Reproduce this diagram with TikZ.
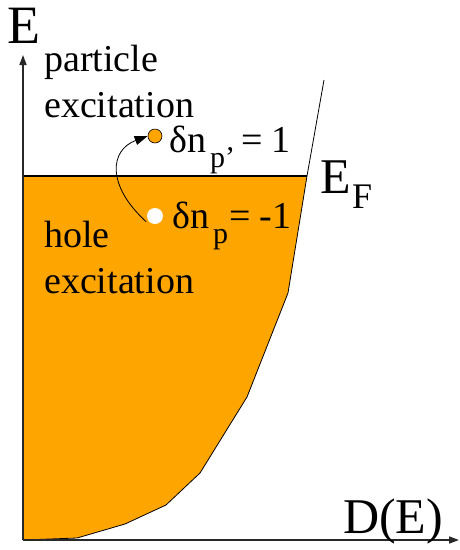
\documentclass[tikz,border=0pt]{standalone}
\usepackage{fontspec}
\setmainfont{Liberation Serif}
\newfontfamily\tms{Liberation Serif}
\usetikzlibrary{arrows.meta}
\definecolor{fermi}{RGB}{255,165,0}
\tikzset{
  axis/.style={line width=1.6pt, draw={rgb,255:red,40;green,40;blue,40}, -{Triangle[length=10pt,width=7pt]}},
  lbl/.style={anchor=base west, inner sep=0pt, font=\tms\fontsize{38}{40}\selectfont},
  big/.style={anchor=base west, inner sep=0pt, font=\tms\fontsize{50}{52}\selectfont},
  dotp/.style={circle, fill=fermi, draw=black, line width=0.6pt, minimum size=14pt, inner sep=0pt},
  doth/.style={circle, fill=white, minimum size=16pt, inner sep=0pt},
}
\newcommand{\subsz}{\tms\fontsize{30}{32}\selectfont}
\begin{document}
\begin{tikzpicture}[x=1pt,y=-1pt]
\useasboundingbox (0,0) rectangle (460,550);
% filled states
\fill[fermi] (23,176) -- (307,176) -- (288,293) -- (247,397) -- (200,473) -- (166,505) -- (125,524) -- (77,538) -- (23,540) -- cycle;
\draw[line width=0.8pt] (324,80) -- (307,176) -- (288,293) -- (247,397) -- (200,473) -- (166,505) -- (125,524) -- (77,538) -- (23,540);
% Fermi level
\coordinate (ef0) at (23,176);
\coordinate (ef1) at (307,176);
\draw[line width=1.4pt] (ef0) -- (ef1);
% axes
\coordinate (o) at (23,540);
\coordinate (ytip) at (23,55);
\coordinate (xtip) at (459,540);
\draw[axis] (o) -- (ytip);
\draw[axis] (o) -- (xtip);
% labels
\node[big, font=\tms\fontsize{54}{56}\selectfont] (E) at (7,43) {E};
\node[lbl] (part) at (44,71) {particle};
\node[lbl] (exc1) at (44,117) {excitation};
\node[lbl] (hole) at (44,247) {hole};
\node[lbl] (exc2) at (44,293) {excitation};
\node[big] (EF) at (320,193) {E};
\node[anchor=base west, inner sep=0pt, font=\tms\fontsize{36}{38}\selectfont] (F) at (352,208) {F};
\node[big] (DE) at (343,533) {D(E)};
% excitations
\node[dotp] (pp) at (155,136) {};
\node[doth] (ph) at (155,216) {};
\node[lbl] (npp) at (169,152) {δn\kern4pt\raisebox{-15pt}{\subsz p’}\kern6pt= 1};
\node[lbl] (nph) at (172,228) {δn\kern4pt\raisebox{-15pt}{\subsz p}\kern1pt=\kern9pt-1};
\draw[line width=0.8pt, -{Triangle[length=13pt,width=9pt]}] (ph.south west) ++(-3,0) .. controls (106,185) and (110,150) .. (pp.west);
\end{tikzpicture}
\end{document}
